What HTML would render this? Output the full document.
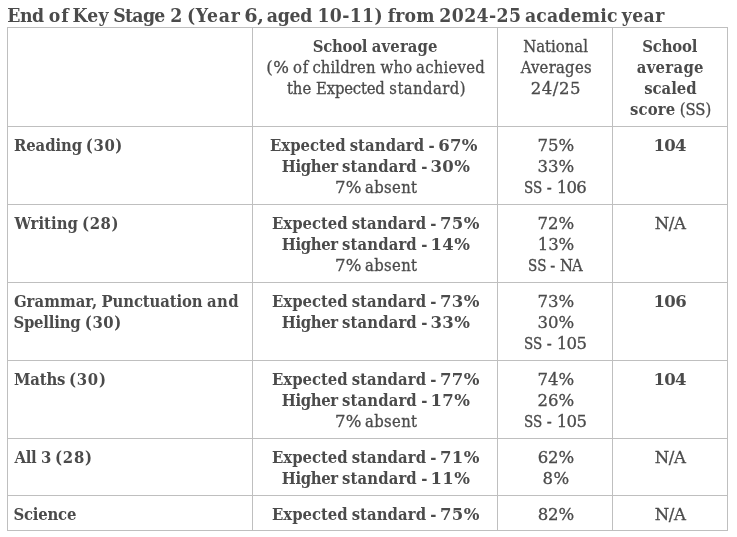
<!DOCTYPE html>
<html lang="en"><head><meta charset="utf-8"><title>End of Key Stage 2 results</title>
<style>
html,body{margin:0;padding:0;background:#fff}
body{width:737px;height:537px;overflow:hidden;position:relative;font-family:"DejaVu Serif Condensed", "DejaVu Serif", "Liberation Serif", serif;color:#4b4b4b;font-stretch:condensed}
h1{position:absolute;left:8px;top:3px;margin:0;font-size:19.2px;line-height:25px;height:25px;font-weight:bold;white-space:nowrap}
h1 span{position:relative}
table{position:absolute;left:7px;top:27px;border-collapse:collapse;table-layout:fixed;width:721px}
td{-webkit-text-stroke:0.3px #4b4b4b;border:1px solid #bfbfbf;padding:8px 0 0 0;vertical-align:top;font-size:16.5px;line-height:21px;text-align:center;white-space:nowrap;overflow:hidden}
td.l{text-align:left;font-weight:bold;padding-left:6px}
b,.b,td.l{font-weight:bold;-webkit-text-stroke:0}
.ln{display:block;position:relative;height:21px}
.n{display:inline-block;transform:scaleX(.91);transform-origin:0 50%}
.d{font-stretch:normal;font-family:"DejaVu Serif", "Liberation Serif", serif}
</style></head><body>
<h1><span id="title" style="left:-0.68px"><span id="titlew0" style="letter-spacing:-0.51px;margin-right:-0.74px">End</span> <span id="titlew1" style="letter-spacing:0.82px;margin-right:-3.06px">of</span> <span id="titlew2" style="letter-spacing:0.25px;margin-right:-1.57px">Key</span> <span id="titlew3" style="letter-spacing:-0.65px;margin-right:-0.52px">Stage</span> <span id="titlew4" style="margin-right:-1.31px">2</span> <span id="titlew5" style="letter-spacing:0.69px;margin-right:-2.12px">(Year</span> <span id="titlew6" class="d" style="letter-spacing:-0.49px;margin-right:-2.73px">6,</span> <span id="titlew7" style="letter-spacing:-0.23px;margin-right:-0.69px">aged</span> <span id="titlew8" style="letter-spacing:0.37px;margin-right:-1.19px">10-11)</span> <span id="titlew9" style="letter-spacing:0.08px;margin-right:-1.22px">from</span> <span id="titlew10" style="letter-spacing:0.42px;margin-right:-2.49px">2024-25</span> <span id="titlew11" style="letter-spacing:0.16px;margin-right:-1.91px">academic</span> <span id="titlew12" style="letter-spacing:0.42px;margin-right:-0.42px">year</span></span></h1>
<table>
<colgroup><col style="width:245px"><col style="width:245px"><col style="width:115px"><col style="width:115px"></colgroup>
<tr style="height:99px">
<td class="l"></td>
<td><span class="ln b" id="r0c1l0" style="left:0.15px"><span id="r0c1l0w0" style="letter-spacing:-0.26px;margin-right:-0.54px">School</span> <span id="r0c1l0w1" style="letter-spacing:0.12px;margin-right:-0.12px">average</span></span><span class="ln" id="r0c1l1" style="left:0.51px"><span id="r0c1l1w0" class="d" style="letter-spacing:0.57px;margin-right:-1.29px">(%</span> <span id="r0c1l1w1" style="letter-spacing:0.99px;margin-right:-1.63px">of</span> <span id="r0c1l1w2" style="letter-spacing:0.12px;margin-right:0.12px">children</span> <span id="r0c1l1w3" style="letter-spacing:0.19px;margin-right:-0.94px">who</span> <span id="r0c1l1w4" style="letter-spacing:0.26px;margin-right:-0.26px">achieved</span></span><span class="ln" id="r0c1l2" style="left:1.24px"><span id="r0c1l2w0" style="letter-spacing:0.01px;margin-right:0.11px">the</span> <span id="r0c1l2w1" style="letter-spacing:-0.19px;margin-right:0.03px">Expected</span> <span id="r0c1l2w2" style="letter-spacing:0.44px;margin-right:-0.44px">standard)</span></span></td>
<td><span class="ln" id="r0c2l0" style="left:0.57px"><span id="r0c2l0w0" style="letter-spacing:0.02px;margin-right:-0.02px">National</span></span><span class="ln" id="r0c2l1" style="left:1.12px"><span id="r0c2l1w0" style="letter-spacing:0.26px;margin-right:-0.26px">Averages</span></span><span class="ln" id="r0c2l2" style="left:0.61px"><span id="r0c2l2w0" class="d" style="letter-spacing:0.51px;margin-right:-0.51px">24/25</span></span></td>
<td><span class="ln b" id="r0c3l0" style="left:-0.19px"><span id="r0c3l0w0" style="letter-spacing:-0.21px;margin-right:0.21px">School</span></span><span class="ln b" id="r0c3l1" style="left:0.17px"><span id="r0c3l1w0" style="letter-spacing:0.3px;margin-right:-0.3px">average</span></span><span class="ln b" id="r0c3l2" style="left:0.39px"><span id="r0c3l2w0" style="letter-spacing:-0.04px;margin-right:0.04px">scaled</span></span><span class="ln" id="r0c3l3" style="left:0.56px"><b id="r0c3l3w0" style="letter-spacing:0.2px;margin-right:-0.42px">score</b> <span id="r0c3l3w1" style="letter-spacing:-0.07px;margin-right:0.07px">(SS)</span></span></td>
</tr>
<tr style="height:78px">
<td class="l"><span class="ln" id="r1c0l0" style="left:0.04px"><span id="r1c0l0w0" style="letter-spacing:-0.1px;margin-right:-1.26px">Reading</span> <span id="r1c0l0w1" style="letter-spacing:0.59px;margin-right:-0.59px">(30)</span></span></td>
<td><span class="ln b" id="r1c1l0" style="left:-1.29px"><span id="r1c1l0w0" style="letter-spacing:-0.03px;margin-right:-1.02px">Expected</span> <span id="r1c1l0w1" style="letter-spacing:0.09px;margin-right:-1.01px">standard</span> <span id="r1c1l0w2" style="margin-right:-1.44px">-</span> <span id="r1c1l0w3" class="d" style="letter-spacing:0.21px;margin-right:-0.21px">67%</span></span><span class="ln b" id="r1c1l1" style="left:0.8px"><span id="r1c1l1w0" style="letter-spacing:-0.36px;margin-right:-0.77px">Higher</span> <span id="r1c1l1w1" style="letter-spacing:0.11px;margin-right:-0.78px">standard</span> <span id="r1c1l1w2" style="margin-right:-1.96px">-</span> <span id="r1c1l1w3" class="d" style="letter-spacing:0.3px;margin-right:-0.3px">30%</span></span><span class="ln" id="r1c1l2" style="left:1.09px"><span id="r1c1l2w0" class="d" style="letter-spacing:0.07px;margin-right:-1.09px">7%</span> <span id="r1c1l2w1" style="letter-spacing:0.34px;margin-right:-0.34px">absent</span></span></td>
<td><span class="ln" id="r1c2l0" style="left:0.84px"><span id="r1c2l0w0" class="d" style="letter-spacing:0.05px;margin-right:-0.05px">75%</span></span><span class="ln" id="r1c2l1" style="left:0.91px"><span id="r1c2l1w0" class="d" style="letter-spacing:-0.02px;margin-right:0.02px">33%</span></span><span class="ln" id="r1c2l2" style="left:0.53px"><span id="r1c2l2w0" class="n" style="letter-spacing:0.06px;margin-right:-2.29px">SS</span> <span id="r1c2l2w1" style="margin-right:0.14px">-</span> <span id="r1c2l2w2" class="d" style="letter-spacing:-0.63px;margin-right:0.63px">106</span></span></td>
<td><span class="ln b" id="r1c3l0" style="left:-0.01px"><span id="r1c3l0w0" class="d" style="letter-spacing:-0.62px;margin-right:0.62px">104</span></span></td>
</tr>
<tr style="height:78px">
<td class="l"><span class="ln" id="r2c0l0" style="left:0.58px"><span id="r2c0l0w0" style="letter-spacing:0.04px;margin-right:-1.01px">Writing</span> <span id="r2c0l0w1" style="letter-spacing:0.57px;margin-right:-0.57px">(28)</span></span></td>
<td><span class="ln b" id="r2c1l0" style="left:0.73px"><span id="r2c1l0w0" style="letter-spacing:-0.03px;margin-right:-1.02px">Expected</span> <span id="r2c1l0w1" style="letter-spacing:0.08px;margin-right:-0.98px">standard</span> <span id="r2c1l0w2" style="margin-right:-1.72px">-</span> <span id="r2c1l0w3" class="d" style="letter-spacing:0.37px;margin-right:-0.37px">75%</span></span><span class="ln b" id="r2c1l1" style="left:0.8px"><span id="r2c1l1w0" style="letter-spacing:-0.36px;margin-right:-0.77px">Higher</span> <span id="r2c1l1w1" style="letter-spacing:0.11px;margin-right:-0.78px">standard</span> <span id="r2c1l1w2" style="margin-right:-2.05px">-</span> <span id="r2c1l1w3" class="d" style="letter-spacing:0.35px;margin-right:-0.35px">14%</span></span><span class="ln" id="r2c1l2" style="left:1.09px"><span id="r2c1l2w0" class="d" style="letter-spacing:0.07px;margin-right:-1.09px">7%</span> <span id="r2c1l2w1" style="letter-spacing:0.34px;margin-right:-0.34px">absent</span></span></td>
<td><span class="ln" id="r2c2l0" style="left:0.84px"><span id="r2c2l0w0" class="d" style="letter-spacing:0.05px;margin-right:-0.05px">72%</span></span><span class="ln" id="r2c2l1" style="left:0.98px"><span id="r2c2l1w0" class="d" style="letter-spacing:-0.09px;margin-right:0.09px">13%</span></span><span class="ln" id="r2c2l2" style="left:0.17px"><span id="r2c2l2w0" class="n" style="letter-spacing:0.17px;margin-right:-2.6px">SS</span> <span id="r2c2l2w1" style="margin-right:0.16px">-</span> <span id="r2c2l2w2" style="letter-spacing:-1.22px;margin-right:1.22px">NA</span></span></td>
<td><span class="ln" id="r2c3l0" style="left:0.33px"><span id="r2c3l0w0" class="d" style="letter-spacing:-0.37px;margin-right:0.37px">N/A</span></span></td>
</tr>
<tr style="height:78px">
<td class="l"><span class="ln" id="r3c0l0" style="left:-0.12px"><span id="r3c0l0w0" style="letter-spacing:0.05px;margin-right:-0.88px">Grammar,</span> <span id="r3c0l0w1" style="letter-spacing:-0.12px;margin-right:-0.64px">Punctuation</span> <span id="r3c0l0w2" style="letter-spacing:0.44px;margin-right:-0.44px">and</span></span><span class="ln" id="r3c0l1" style="left:-0.64px"><span id="r3c0l1w0" style="letter-spacing:-0.2px;margin-right:-0.74px">Spelling</span> <span id="r3c0l1w1" style="letter-spacing:0.56px;margin-right:-0.56px">(30)</span></span></td>
<td><span class="ln b" id="r3c1l0" style="left:0.73px"><span id="r3c1l0w0" style="letter-spacing:-0.03px;margin-right:-1.02px">Expected</span> <span id="r3c1l0w1" style="letter-spacing:0.08px;margin-right:-0.98px">standard</span> <span id="r3c1l0w2" style="margin-right:-1.72px">-</span> <span id="r3c1l0w3" class="d" style="letter-spacing:0.37px;margin-right:-0.37px">73%</span></span><span class="ln b" id="r3c1l1" style="left:0.8px"><span id="r3c1l1w0" style="letter-spacing:-0.36px;margin-right:-0.77px">Higher</span> <span id="r3c1l1w1" style="letter-spacing:0.11px;margin-right:-0.78px">standard</span> <span id="r3c1l1w2" style="margin-right:-1.96px">-</span> <span id="r3c1l1w3" class="d" style="letter-spacing:0.3px;margin-right:-0.3px">33%</span></span></td>
<td><span class="ln" id="r3c2l0" style="left:0.84px"><span id="r3c2l0w0" class="d" style="letter-spacing:0.05px;margin-right:-0.05px">73%</span></span><span class="ln" id="r3c2l1" style="left:0.91px"><span id="r3c2l1w0" class="d" style="letter-spacing:-0.02px;margin-right:0.02px">30%</span></span><span class="ln" id="r3c2l2" style="left:0.66px"><span id="r3c2l2w0" class="n" style="letter-spacing:0.06px;margin-right:-2.32px">SS</span> <span id="r3c2l2w1" style="margin-right:0.14px">-</span> <span id="r3c2l2w2" class="d" style="letter-spacing:-0.5px;margin-right:0.5px">105</span></span></td>
<td><span class="ln b" id="r3c3l0" style="left:0.12px"><span id="r3c3l0w0" class="d" style="letter-spacing:-0.49px;margin-right:0.49px">106</span></span></td>
</tr>
<tr style="height:78px">
<td class="l"><span class="ln" id="r4c0l0" style="left:-0.03px"><span id="r4c0l0w0" style="letter-spacing:-0.15px;margin-right:-1.43px">Maths</span> <span id="r4c0l0w1" style="letter-spacing:0.72px;margin-right:-0.72px">(30)</span></span></td>
<td><span class="ln b" id="r4c1l0" style="left:0.73px"><span id="r4c1l0w0" style="letter-spacing:-0.03px;margin-right:-1.02px">Expected</span> <span id="r4c1l0w1" style="letter-spacing:0.08px;margin-right:-0.98px">standard</span> <span id="r4c1l0w2" style="margin-right:-1.72px">-</span> <span id="r4c1l0w3" class="d" style="letter-spacing:0.37px;margin-right:-0.37px">77%</span></span><span class="ln b" id="r4c1l1" style="left:0.8px"><span id="r4c1l1w0" style="letter-spacing:-0.36px;margin-right:-0.77px">Higher</span> <span id="r4c1l1w1" style="letter-spacing:0.11px;margin-right:-0.78px">standard</span> <span id="r4c1l1w2" style="margin-right:-2.05px">-</span> <span id="r4c1l1w3" class="d" style="letter-spacing:0.35px;margin-right:-0.35px">17%</span></span><span class="ln" id="r4c1l2" style="left:1.09px"><span id="r4c1l2w0" class="d" style="letter-spacing:0.07px;margin-right:-1.09px">7%</span> <span id="r4c1l2w1" style="letter-spacing:0.34px;margin-right:-0.34px">absent</span></span></td>
<td><span class="ln" id="r4c2l0" style="left:0.84px"><span id="r4c2l0w0" class="d" style="letter-spacing:0.05px;margin-right:-0.05px">74%</span></span><span class="ln" id="r4c2l1" style="left:0.91px"><span id="r4c2l1w0" class="d" style="letter-spacing:-0.03px;margin-right:0.03px">26%</span></span><span class="ln" id="r4c2l2" style="left:0.66px"><span id="r4c2l2w0" class="n" style="letter-spacing:0.06px;margin-right:-2.32px">SS</span> <span id="r4c2l2w1" style="margin-right:0.14px">-</span> <span id="r4c2l2w2" class="d" style="letter-spacing:-0.5px;margin-right:0.5px">105</span></span></td>
<td><span class="ln b" id="r4c3l0" style="left:-0.01px"><span id="r4c3l0w0" class="d" style="letter-spacing:-0.62px;margin-right:0.62px">104</span></span></td>
</tr>
<tr style="height:57px">
<td class="l"><span class="ln" id="r5c0l0" style="left:0.41px"><span id="r5c0l0w0" style="letter-spacing:-0.23px;margin-right:-0.68px">All</span> <span id="r5c0l0w1" style="margin-right:-1.44px">3</span> <span id="r5c0l0w2" style="letter-spacing:0.73px;margin-right:-0.73px">(28)</span></span></td>
<td><span class="ln b" id="r5c1l0" style="left:0.73px"><span id="r5c1l0w0" style="letter-spacing:-0.03px;margin-right:-1.02px">Expected</span> <span id="r5c1l0w1" style="letter-spacing:0.08px;margin-right:-0.98px">standard</span> <span id="r5c1l0w2" style="margin-right:-1.72px">-</span> <span id="r5c1l0w3" class="d" style="letter-spacing:0.37px;margin-right:-0.37px">71%</span></span><span class="ln b" id="r5c1l1" style="left:0.8px"><span id="r5c1l1w0" style="letter-spacing:-0.36px;margin-right:-0.77px">Higher</span> <span id="r5c1l1w1" style="letter-spacing:0.11px;margin-right:-0.78px">standard</span> <span id="r5c1l1w2" style="margin-right:-2.05px">-</span> <span id="r5c1l1w3" class="d" style="letter-spacing:0.35px;margin-right:-0.35px">11%</span></span></td>
<td><span class="ln" id="r5c2l0" style="left:0.96px"><span id="r5c2l0w0" class="d" style="letter-spacing:-0.07px;margin-right:0.07px">62%</span></span><span class="ln" id="r5c2l1" style="left:0.83px"><span id="r5c2l1w0" class="d" style="letter-spacing:0.32px;margin-right:-0.32px">8%</span></span></td>
<td><span class="ln" id="r5c3l0" style="left:0.33px"><span id="r5c3l0w0" class="d" style="letter-spacing:-0.37px;margin-right:0.37px">N/A</span></span></td>
</tr>
<tr style="height:35px">
<td class="l"><span class="ln" id="r6c0l0" style="left:-0.59px"><span id="r6c0l0w0" style="letter-spacing:-0.2px;margin-right:0.2px">Science</span></span></td>
<td><span class="ln b" id="r6c1l0" style="left:0.73px"><span id="r6c1l0w0" style="letter-spacing:-0.03px;margin-right:-1.02px">Expected</span> <span id="r6c1l0w1" style="letter-spacing:0.08px;margin-right:-0.98px">standard</span> <span id="r6c1l0w2" style="margin-right:-1.72px">-</span> <span id="r6c1l0w3" class="d" style="letter-spacing:0.37px;margin-right:-0.37px">75%</span></span></td>
<td><span class="ln" id="r6c2l0" style="left:0.96px"><span id="r6c2l0w0" class="d" style="letter-spacing:-0.07px;margin-right:0.07px">82%</span></span></td>
<td><span class="ln" id="r6c3l0" style="left:0.33px"><span id="r6c3l0w0" class="d" style="letter-spacing:-0.37px;margin-right:0.37px">N/A</span></span></td>
</tr>
</table>
</body></html>
